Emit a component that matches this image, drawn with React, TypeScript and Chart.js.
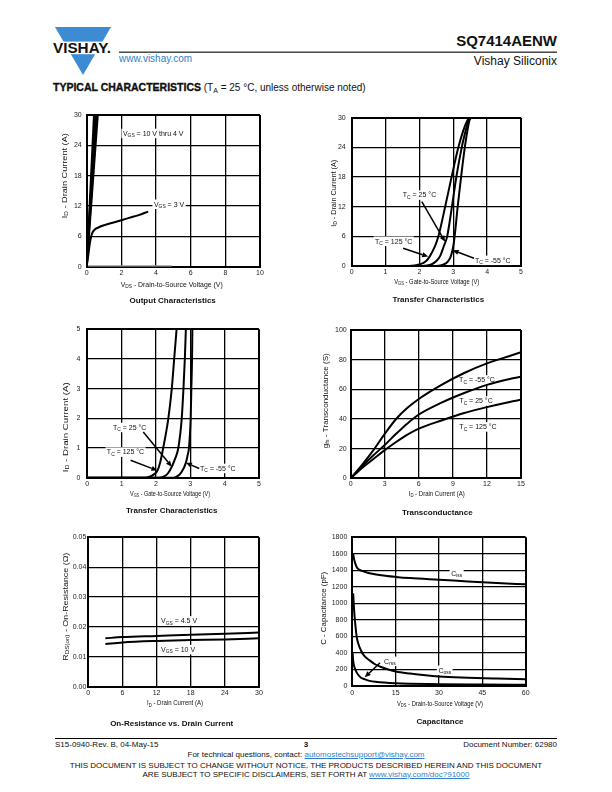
import React, { useEffect, useRef } from "react";
import { Chart, registerables } from "chart.js";
Chart.register(...registerables);

const SANS = '"Liberation Sans", Arial, Helvetica, sans-serif';

// ---------- Output Characteristics ----------
const outXTicks = [0, 2, 4, 6, 8, 10];
const outYTicks = [0, 6, 12, 18, 24, 30];
const outHighVdsAt30A = [0.42, 0.5, 0.57, 0.64]; // V_GS = 10 V thru 4 V
const outHighId = [0, 30];
const out3Vds = [0, 0.1, 0.2, 0.3, 0.45, 0.7, 1, 1.5, 2, 2.5, 3, 3.55];
const out3Id = [0, 2.5, 5, 6.5, 7.3, 7.8, 8.2, 8.7, 9.2, 9.7, 10.2, 10.9];
const out2Vds = [0, 4.9];
const out2Id = [0.15, 0.15];

// ---------- Transfer Characteristics (0 - 30 A) ----------
const tr30XTicks = [0, 1, 2, 3, 4, 5];
const tr30YTicks = [0, 6, 12, 18, 24, 30];
const tr30Id = [0, 0, 0.3, 1, 2, 4, 6, 12, 18, 24, 27.5, 29.5, 30];
const tr30V125 = [0, 1.7, 2.0, 2.2, 2.31, 2.46, 2.56, 2.76, 2.95, 3.15, 3.3, 3.42, 3.5];
const tr30V25 = [0, 2.1, 2.35, 2.5, 2.61, 2.72, 2.82, 2.96, 3.09, 3.25, 3.37, 3.45, 3.52];
const tr30Vm55 = [0, 2.5, 2.72, 2.85, 2.93, 3.0, 3.04, 3.13, 3.23, 3.34, 3.42, 3.48, 3.54];

// ---------- Transfer Characteristics (0 - 5 A) ----------
const tr5XTicks = [0, 1, 2, 3, 4, 5];
const tr5YTicks = [0, 1, 2, 3, 4, 5];
const tr5V125 = [0, 1.7, 1.85, 1.95, 2.04, 2.12, 2.21, 2.36, 2.46, 2.53, 2.6, 2.66];
const tr5Id125 = [0, 0, 0.05, 0.12, 0.23, 0.5, 1, 2, 3, 4, 5, 6];
const tr5V25 = [0, 2.1, 2.25, 2.35, 2.46, 2.56, 2.65, 2.75, 2.8, 2.84, 2.87, 2.9];
const tr5Id25 = [0, 0, 0.05, 0.15, 0.37, 0.65, 1, 2, 3, 4, 5, 6];
const tr5Vm55 = [0, 2.5, 2.65, 2.75, 2.87, 2.92, 2.96, 3.01, 3.03, 3.05, 3.06, 3.07];
const tr5Idm55 = [0, 0, 0.07, 0.2, 0.5, 0.75, 1, 2, 3, 4, 5, 6];

// ---------- Transconductance ----------
const gfsXTicks = [0, 3, 6, 9, 12, 15];
const gfsYTicks = [0, 20, 40, 60, 80, 100];
const gfsId = [0, 1, 2, 3, 4, 5, 6, 8, 10, 12, 14, 15];
const gfsm55 = [0, 9, 19, 30, 40, 47.5, 53.5, 63, 71, 77.5, 82.5, 85];
const gfs25 = [0, 8, 15.5, 22.5, 30, 37, 43, 51, 57.5, 63, 67, 68.5];
const gfs125 = [0, 7, 13, 19, 24.5, 29.5, 33.5, 39, 44, 48, 51.5, 53];

// ---------- On-Resistance vs. Drain Current ----------
const rdsXTicks = [0, 6, 12, 18, 24, 30];
const rdsYTicks = [0, 0.01, 0.02, 0.03, 0.04, 0.05];
const rdsId = [3, 6, 12, 18, 24, 30];
const rds45 = [0.0162, 0.0166, 0.017, 0.0174, 0.0177, 0.0181];
const rds10 = [0.0143, 0.0148, 0.0153, 0.0156, 0.0158, 0.0162];

// ---------- Capacitance ----------
const capXTicks = [0, 15, 30, 45, 60];
const capYTicks = [0, 200, 400, 600, 800, 1000, 1200, 1400, 1600, 1800];
const cissV = [0.3, 0.7, 1.5, 2.5, 4, 6, 10, 15, 20, 30, 40, 50, 60];
const cissC = [1600, 1520, 1440, 1405, 1385, 1365, 1340, 1320, 1305, 1285, 1265, 1245, 1230];
const cossV = [0.3, 0.6, 1, 1.5, 2, 3, 4, 6, 8, 10, 15, 20, 30, 40, 50, 60];
const cossC = [1120, 930, 760, 600, 520, 430, 370, 310, 260, 230, 175, 150, 115, 100, 90, 82];
const crssV = [0.1, 0.35, 0.9, 1.5, 2.1, 3, 4.15, 6, 8, 15, 30, 45, 60];
const crssC = [400, 293, 213, 165, 133, 100, 84, 62, 50, 32, 22, 18, 16];

type Series = { x: number[]; y: number[]; color?: string; width?: number; smooth?: boolean };
type Label = { x: number; y: number; text: string };
type Arrow = { x1: number; y1: number; x2: number; y2: number };
type TextPos = { text: string; cx: number; cy: number; len?: number };
type Spec = {
  box: [number, number, number, number];
  area: [number, number, number, number];
  xTicks: number[];
  yTicks: number[];
  yDec?: number;
  yPad: number;
  xPad: number;
  series: Series[];
  labels: Label[];
  arrows: Arrow[];
  xTitle: TextPos;
  yTitle: TextPos;
  title: TextPos;
};

function parts(s: string) {
  const out: { t: string; sub: boolean }[] = [];
  let i = 0;
  while (i < s.length) {
    const o = s.indexOf("{", i);
    if (o < 0) {
      out.push({ t: s.slice(i), sub: false });
      break;
    }
    if (o > i) out.push({ t: s.slice(i, o), sub: false });
    const c = s.indexOf("}", o);
    out.push({ t: s.slice(o + 1, c), sub: true });
    i = c + 1;
  }
  return out;
}
const fnt = (size: number, bold: boolean) => `${bold ? "bold " : ""}${size}px ${SANS}`;
function richWidth(ctx: CanvasRenderingContext2D, s: string, size: number, bold: boolean) {
  let w = 0;
  for (const p of parts(s)) {
    ctx.font = fnt(p.sub ? size * 0.7 : size, bold);
    w += ctx.measureText(p.t).width;
  }
  return w;
}
function drawRichAt(ctx: CanvasRenderingContext2D, s: string, x: number, y: number, size: number, bold: boolean) {
  ctx.textBaseline = "alphabetic";
  ctx.textAlign = "left";
  const base = y + size * 0.36;
  let cx = x;
  for (const p of parts(s)) {
    const sz = p.sub ? size * 0.7 : size;
    ctx.font = fnt(sz, bold);
    ctx.fillText(p.t, cx, p.sub ? base + size * 0.22 : base);
    cx += ctx.measureText(p.t).width;
  }
}
function drawCentered(ctx: CanvasRenderingContext2D, t: TextPos, ox: number, oy: number, size: number, bold: boolean, rotate: boolean) {
  const w = richWidth(ctx, t.text, size, bold);
  const k = t.len ? t.len / w : 1;
  ctx.save();
  ctx.translate(t.cx - ox, t.cy - oy);
  if (rotate) ctx.rotate(-Math.PI / 2);
  ctx.scale(k, 1);
  ctx.fillStyle = "#111";
  drawRichAt(ctx, t.text, -w / 2, 0, size, bold);
  ctx.restore();
}

function extras(spec: Spec) {
  const ox = spec.box[0];
  const oy = spec.box[1];
  return {
    id: "extras",
    beforeDatasetsDraw(chart: any) {
      const { ctx } = chart;
      const xs = chart.scales.x;
      const ys = chart.scales.y;
      ctx.save();
      for (const l of spec.labels) {
        const px = xs.getPixelForValue(l.x);
        const py = ys.getPixelForValue(l.y);
        const w = richWidth(ctx, l.text, 7, false);
        ctx.fillStyle = "#fff";
        ctx.fillRect(px - 1.5, py - 4.5, w + 3, 9.5);
        ctx.fillStyle = "#111";
        drawRichAt(ctx, l.text, px, py, 7, false);
      }
      ctx.restore();
    },
    afterDatasetsDraw(chart: any) {
      const { ctx } = chart;
      const xs = chart.scales.x;
      const ys = chart.scales.y;
      ctx.save();
      ctx.strokeStyle = "#000";
      ctx.fillStyle = "#000";
      ctx.lineWidth = 1.5;
      for (const a of spec.arrows) {
        const x1 = xs.getPixelForValue(a.x1);
        const y1 = ys.getPixelForValue(a.y1);
        const x2 = xs.getPixelForValue(a.x2);
        const y2 = ys.getPixelForValue(a.y2);
        const ang = Math.atan2(y2 - y1, x2 - x1);
        const c = Math.cos(ang);
        const s = Math.sin(ang);
        const hl = 6;
        const hw = 2.6;
        const bx = x2 - hl * c;
        const by = y2 - hl * s;
        ctx.beginPath();
        ctx.moveTo(x1, y1);
        ctx.lineTo(bx, by);
        ctx.stroke();
        ctx.beginPath();
        ctx.moveTo(x2, y2);
        ctx.lineTo(bx + hw * s, by - hw * c);
        ctx.lineTo(bx - hw * s, by + hw * c);
        ctx.closePath();
        ctx.fill();
      }
      ctx.restore();
    },
    afterDraw(chart: any) {
      const { ctx } = chart;
      drawCentered(ctx, spec.xTitle, ox, oy, 7, false, false);
      drawCentered(ctx, spec.yTitle, ox, oy, 7, false, true);
      drawCentered(ctx, spec.title, ox, oy, 8, true, false);
    },
  };
}

function axis(ticks: number[], pad: number, fit: (s: any) => void, dec?: number) {
  const n = ticks.length;
  return {
    type: "linear" as const,
    min: ticks[0],
    max: ticks[n - 1],
    afterBuildTicks: (s: any) => {
      s.ticks = ticks.map((v) => ({ value: v }));
    },
    afterFit: fit,
    ticks: {
      autoSkip: false,
      maxRotation: 0,
      padding: pad,
      color: "#222",
      font: { family: SANS, size: 7 },
      callback: (v: any) => (dec !== undefined ? Number(v).toFixed(dec) : String(v)),
    },
    grid: {
      color: "#000",
      drawTicks: false,
      lineWidth: (c: any) => (c.index === 0 || c.index === n - 1 ? 2 : 1.3),
    },
    border: { display: true, color: "#000", width: 2 },
  };
}

function Plot({ spec }: { spec: Spec }) {
  const ref = useRef<HTMLCanvasElement>(null);
  const [bx, by, bw, bh] = spec.box;
  useEffect(() => {
    const [L, T, R, B] = spec.area;
    const YW = 20;
    const XH = 14;
    const chart = new Chart(ref.current as HTMLCanvasElement, {
      type: "line",
      data: {
        datasets: spec.series.map((s) => ({
          data: s.x.map((x, i) => ({ x, y: s.y[i] })),
          borderColor: s.color || "#000",
          borderWidth: s.width || 2,
          pointRadius: 0,
          fill: false,
          tension: 0,
          cubicInterpolationMode: s.smooth ? ("monotone" as const) : ("default" as const),
        })),
      },
      options: {
        animation: false,
        responsive: false,
        maintainAspectRatio: false,
        devicePixelRatio: 1,
        events: [],
        layout: {
          padding: { left: L - bx - YW, top: T - by, right: bx + bw - R, bottom: by + bh - B - XH },
        },
        plugins: { legend: { display: false }, tooltip: { enabled: false }, title: { display: false } },
        scales: {
          x: axis(spec.xTicks, spec.xPad, (s: any) => {
            s.height = XH;
          }),
          y: axis(
            spec.yTicks,
            spec.yPad,
            (s: any) => {
              s.width = YW;
            },
            spec.yDec
          ),
        },
      } as any,
      plugins: [extras(spec) as any],
    });
    return () => chart.destroy();
  }, [spec]);
  return (
    <canvas
      ref={ref}
      width={bw}
      height={bh}
      style={{ position: "absolute", left: bx, top: by, width: bw, height: bh }}
    />
  );
}

const specs: Spec[] = [
  {
    box: [50, 105, 230, 205],
    area: [86.7, 115, 260, 266.7],
    xTicks: outXTicks,
    yTicks: outYTicks,
    yPad: 5,
    xPad: 2,
    series: [
      ...outHighVdsAt30A.map((v) => ({ x: [0, v], y: outHighId })),
      { x: out3Vds, y: out3Id, smooth: true },
      { x: out2Vds, y: out2Id, color: "#9a9a9a", width: 1.5 },
    ],
    labels: [
      { x: 2.09, y: 26.4, text: "V{GS} = 10 V thru 4 V" },
      { x: 3.88, y: 12.4, text: "V{GS} = 3 V" },
    ],
    arrows: [],
    xTitle: { text: "V{DS} - Drain-to-Source Voltage (V)", cx: 171.7, cy: 284, len: 102 },
    yTitle: { text: "I{D} - Drain Current (A)", cx: 64, cy: 175.7, len: 85 },
    title: { text: "Output Characteristics", cx: 172.7, cy: 300 },
  },
  {
    box: [310, 105, 235, 205],
    area: [351.7, 117.7, 521, 266],
    xTicks: tr30XTicks,
    yTicks: tr30YTicks,
    yPad: 6,
    xPad: 2,
    series: [
      { x: tr30V125, y: tr30Id, smooth: true },
      { x: tr30V25, y: tr30Id, smooth: true },
      { x: tr30Vm55, y: tr30Id, smooth: true },
    ],
    labels: [
      { x: 1.51, y: 14.4, text: "T{C} = 25 °C" },
      { x: 0.69, y: 5.06, text: "T{C} = 125 °C" },
      { x: 3.64, y: 1.2, text: "T{C} = -55 °C" },
    ],
    arrows: [
      { x1: 2.07, y1: 13.0, x2: 2.76, y2: 4.9 },
      { x1: 1.52, y1: 3.6, x2: 2.26, y2: 1.9 },
      { x1: 3.61, y1: 1.56, x2: 2.98, y2: 3.2 },
    ],
    xTitle: { text: "V{GS} - Gate-to-Source Voltage (V)", cx: 436.7, cy: 281, len: 85 },
    yTitle: { text: "I{D} - Drain Current (A)", cx: 333.3, cy: 193.3, len: 67 },
    title: { text: "Transfer Characteristics", cx: 438.3, cy: 299 },
  },
  {
    box: [50, 318, 230, 202],
    area: [87.3, 328.3, 259, 477.7],
    xTicks: tr5XTicks,
    yTicks: tr5YTicks,
    yPad: 7,
    xPad: 2,
    series: [
      { x: tr5V125, y: tr5Id125, smooth: true },
      { x: tr5V25, y: tr5Id25, smooth: true },
      { x: tr5Vm55, y: tr5Idm55, smooth: true },
    ],
    labels: [
      { x: 0.75, y: 1.7, text: "T{C} = 25 °C" },
      { x: 0.57, y: 0.87, text: "T{C} = 125 °C" },
      { x: 3.28, y: 0.32, text: "T{C} = -55 °C" },
    ],
    arrows: [
      { x1: 1.63, y1: 1.54, x2: 2.46, y2: 0.37 },
      { x1: 1.26, y1: 0.59, x2: 2.04, y2: 0.24 },
      { x1: 3.26, y1: 0.31, x2: 2.87, y2: 0.5 },
    ],
    xTitle: { text: "V{GS} - Gate-to-Source Voltage (V)", cx: 170, cy: 493.3, len: 80 },
    yTitle: { text: "I{D} - Drain Current (A)", cx: 65, cy: 427.3, len: 90 },
    title: { text: "Transfer Characteristics", cx: 171.7, cy: 510 },
  },
  {
    box: [310, 318, 235, 202],
    area: [350.7, 330, 521, 478.3],
    xTicks: gfsXTicks,
    yTicks: gfsYTicks,
    yPad: 4,
    xPad: 1.5,
    series: [
      { x: gfsId, y: gfsm55, smooth: true },
      { x: gfsId, y: gfs25, smooth: true },
      { x: gfsId, y: gfs125, smooth: true },
    ],
    labels: [
      { x: 9.55, y: 66.5, text: "T{C} = -55 °C" },
      { x: 9.57, y: 52.3, text: "T{C} = 25 °C" },
      { x: 9.57, y: 34.8, text: "T{C} = 125 °C" },
    ],
    arrows: [],
    xTitle: { text: "I{D} - Drain Current (A)", cx: 436.7, cy: 493.3, len: 56 },
    yTitle: { text: "g{fs} - Transconductance (S)", cx: 325, cy: 400.7, len: 95 },
    title: { text: "Transconductance", cx: 437.3, cy: 511.7 },
  },
  {
    box: [50, 528, 230, 202],
    area: [88.3, 537.3, 259, 686.7],
    xTicks: rdsXTicks,
    yTicks: rdsYTicks,
    yDec: 2,
    yPad: 2,
    xPad: 2,
    series: [
      { x: rdsId, y: rds45, smooth: true },
      { x: rdsId, y: rds10, smooth: true },
    ],
    labels: [
      { x: 12.78, y: 0.0221, text: "V{GS} = 4.5 V" },
      { x: 12.78, y: 0.0125, text: "V{GS} = 10 V" },
    ],
    arrows: [],
    xTitle: { text: "I{D} - Drain Current (A)", cx: 175, cy: 702.7, len: 56 },
    yTitle: { text: "R{DS(on)} - On-Resistance (Ω)", cx: 65, cy: 606.7, len: 108 },
    title: { text: "On-Resistance vs. Drain Current", cx: 171.7, cy: 722.7 },
  },
  {
    box: [310, 528, 235, 202],
    area: [352.3, 536.7, 525.7, 686],
    xTicks: capXTicks,
    yTicks: capYTicks,
    yPad: 5,
    xPad: 3,
    series: [
      { x: cissV, y: cissC, smooth: true },
      { x: cossV, y: cossC, smooth: true },
      { x: crssV, y: crssC, smooth: true },
    ],
    labels: [
      { x: 34.2, y: 1367, text: "C{iss}" },
      { x: 29.8, y: 193, text: "C{oss}" },
      { x: 11, y: 301, text: "C{rss}" },
    ],
    arrows: [{ x1: 9.6, y1: 281, x2: 4.3, y2: 105 }],
    xTitle: { text: "V{DS} - Drain-to-Source Voltage (V)", cx: 440, cy: 703.3, len: 86 },
    yTitle: { text: "C - Capacitance (pF)", cx: 323.3, cy: 608.3, len: 73 },
    title: { text: "Capacitance", cx: 440, cy: 720.7 },
  },
];

function Txt(props: {
  x: number;
  top: number;
  size: number;
  bold?: boolean;
  align?: "left" | "right" | "center";
  color?: string;
  children: React.ReactNode;
}) {
  const { x, top, size, bold, align = "left", color = "#111", children } = props;
  const st: React.CSSProperties = {
    position: "absolute",
    top,
    fontSize: size,
    lineHeight: `${size}px`,
    fontWeight: bold ? "bold" : "normal",
    whiteSpace: "nowrap",
    color,
    fontFamily: SANS,
  };
  if (align === "left") st.left = x;
  else if (align === "right") st.right = 612 - x;
  else {
    st.left = x;
    st.transform = "translateX(-50%)";
  }
  return <div style={st}>{children}</div>;
}

const LINK = "#2f7fc8";

export default function App() {
  return (
    <div
      style={{
        position: "absolute",
        left: 0,
        top: 0,
        width: 612,
        height: 792,
        background: "#fff",
        overflow: "hidden",
        fontFamily: SANS,
      }}
    >
      <svg style={{ position: "absolute", left: 0, top: 0 }} width={612} height={100}>
        <polygon points="55,27 111,27 83,75" fill="#3d8bd3" />
        <rect x="50" y="41.6" width="66" height="12.6" fill="#fff" />
        <text
          x="53"
          y="53.3"
          fontFamily={SANS}
          fontWeight="bold"
          fontSize="14.5"
          textLength="58"
          lengthAdjust="spacingAndGlyphs"
          fill="#111"
        >
          VISHAY.
        </text>
        <rect x="119" y="51.6" width="438" height="1.1" fill="#000" />
      </svg>
      <Txt x={557} top={33} size={15} bold align="right">
        SQ7414AENW
      </Txt>
      <Txt x={557} top={55.4} size={12} align="right">
        Vishay Siliconix
      </Txt>
      <Txt x={119} top={53.7} size={10} color={LINK}>
        www.vishay.com
      </Txt>
      <Txt x={53} top={81.5} size={10}>
        <span style={{ fontWeight: "bold", fontSize: 10.5, WebkitTextStroke: "0.35px #111" }}>
          TYPICAL CHARACTERISTICS
        </span>{" "}
        (T
        <span style={{ fontSize: 7, position: "relative", top: 2 }}>A</span> = 25 °C, unless otherwise noted)
      </Txt>

      {specs.map((s, i) => (
        <Plot key={i} spec={s} />
      ))}

      <div style={{ position: "absolute", left: 55, top: 738, width: 502, height: 1, background: "#000" }} />
      <Txt x={55} top={741} size={8}>
        S15-0940-Rev. B, 04-May-15
      </Txt>
      <Txt x={306} top={741} size={8} bold align="center">
        3
      </Txt>
      <Txt x={557} top={741} size={8} align="right">
        Document Number: 62980
      </Txt>
      <Txt x={306} top={751} size={8} align="center">
        For technical questions, contact:{" "}
        <span style={{ color: LINK, textDecoration: "underline" }}>automostechsupport@vishay.com</span>
      </Txt>
      <Txt x={306} top={761.5} size={8} align="center">
        THIS DOCUMENT IS SUBJECT TO CHANGE WITHOUT NOTICE. THE PRODUCTS DESCRIBED HEREIN AND THIS DOCUMENT
      </Txt>
      <Txt x={306} top={770.5} size={8} align="center">
        ARE SUBJECT TO SPECIFIC DISCLAIMERS, SET FORTH AT{" "}
        <span style={{ color: LINK, textDecoration: "underline" }}>www.vishay.com/doc?91000</span>
      </Txt>
    </div>
  );
}
